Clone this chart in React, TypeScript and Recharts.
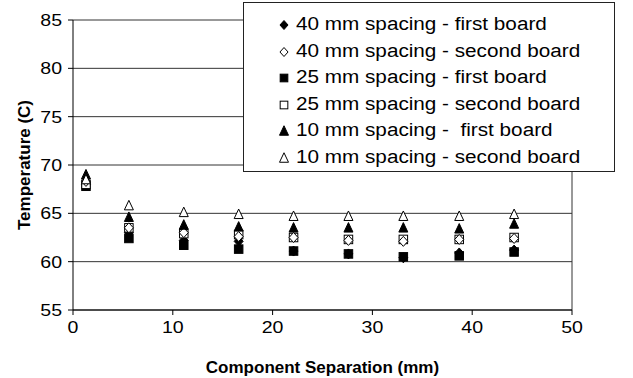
import React from "react";
import { ScatterChart, Scatter, XAxis, YAxis, CartesianGrid, ReferenceLine } from "recharts";

const separation = [1.3, 5.6, 11.1, 16.6, 22.1, 27.6, 33.1, 38.7, 44.2];
const s40First = [68.0, 63.0, 62.2, 62.1, 61.1, 60.8, 60.4, 60.9, 61.2];
const s40Second = [68.3, 63.5, 63.0, 62.6, 62.5, 62.2, 62.1, 62.3, 62.4];
const s25First = [67.8, 62.4, 61.7, 61.3, 61.1, 60.8, 60.5, 60.6, 61.0];
const s25Second = [68.0, 63.5, 62.9, 62.8, 62.5, 62.3, 62.3, 62.3, 62.5];
const s10First = [69.0, 64.6, 63.8, 63.6, 63.5, 63.5, 63.5, 63.4, 63.9];
const s10Second = [68.5, 65.8, 65.1, 64.9, 64.7, 64.7, 64.7, 64.7, 64.9];

const yTicks = [55, 60, 65, 70, 75, 80, 85];
const xTicks = [0, 10, 20, 30, 40, 50];

const FONT = "'Liberation Sans', Arial, sans-serif";
// the reference is a little wider than tall, so text gets stretched sideways
const STRETCH = 1.15;

const toPoints = (vals: number[]) => vals.map((v, i) => ({ x: separation[i], y: v }));

type MarkerKind = "diamond" | "square" | "triangle";

const drawMarker = (kind: MarkerKind, filled: boolean, cx: number, cy: number, r: number) => {
  const fill = filled ? "#000" : "#fff";
  if (kind === "diamond") {
    return (
      <polygon
        points={`${cx},${cy - r} ${cx + r * 0.9},${cy} ${cx},${cy + r} ${cx - r * 0.9},${cy}`}
        fill={fill}
        stroke="#000"
        strokeWidth={1}
      />
    );
  }
  if (kind === "square") {
    const h = r * 0.85;
    return <rect x={cx - h} y={cy - h} width={h * 2} height={h * 2} fill={fill} stroke="#000" strokeWidth={1} />;
  }
  return (
    <polygon
      points={`${cx},${cy - r * 1.05} ${cx + r * 0.9},${cy + r * 0.85} ${cx - r * 0.9},${cy + r * 0.85}`}
      fill={fill}
      stroke="#000"
      strokeWidth={1}
    />
  );
};

const markerShape = (kind: MarkerKind, filled: boolean) => (props: any) => {
  const { cx, cy } = props;
  return <g>{drawMarker(kind, filled, cx, cy, 5)}</g>;
};

const series = [
  { name: "40 mm spacing - first board", data: s40First, kind: "diamond" as MarkerKind, filled: true },
  { name: "40 mm spacing - second board", data: s40Second, kind: "diamond" as MarkerKind, filled: false },
  { name: "25 mm spacing - first board", data: s25First, kind: "square" as MarkerKind, filled: true },
  { name: "25 mm spacing - second board", data: s25Second, kind: "square" as MarkerKind, filled: false },
  { name: "10 mm spacing -  first board", data: s10First, kind: "triangle" as MarkerKind, filled: true },
  { name: "10 mm spacing - second board", data: s10Second, kind: "triangle" as MarkerKind, filled: false },
];

// plotting order so that the open markers sit on top of the filled ones
const drawOrder = [0, 2, 3, 1, 4, 5];

const XTick = (props: any) => {
  const { x, y, payload } = props;
  return (
    <g transform={`translate(${x},${y + 16}) scale(${STRETCH},1)`}>
      <text x={0} y={0} textAnchor="middle" fill="#000" fontSize={17} fontFamily={FONT}>
        {payload.value}
      </text>
    </g>
  );
};

const YTick = (props: any) => {
  const { y, payload } = props;
  return (
    <g transform={`translate(62,${y + 6}) scale(${STRETCH},1)`}>
      <text x={0} y={0} textAnchor="end" fill="#000" fontSize={17} fontFamily={FONT}>
        {payload.value}
      </text>
    </g>
  );
};

const LegendBox = () => (
  <div
    style={{
      position: "absolute",
      left: 243,
      top: 2,
      width: 372,
      height: 170,
      border: "1px solid #222",
      background: "#fff",
      boxSizing: "border-box",
      paddingTop: 9,
      fontFamily: FONT,
      fontSize: 18,
      color: "#000",
    }}
  >
    {series.map((s) => (
      <div key={s.name} style={{ position: "relative", height: 26.5 }}>
        <svg width={12} height={12} style={{ position: "absolute", left: 34, top: 7 }}>
          {drawMarker(s.kind, s.filled, 6, 6, s.kind === "triangle" ? 5 : 4.5)}
        </svg>
        <div
          style={{
            position: "absolute",
            left: 52,
            top: 2,
            whiteSpace: "pre",
            transform: `scaleX(${STRETCH})`,
            transformOrigin: "left top",
          }}
        >
          {s.name}
        </div>
      </div>
    ))}
  </div>
);

export default function App() {
  return (
    <div style={{ position: "fixed", top: 0, left: 0, width: 633, height: 378, background: "#fff" }}>
      <ScatterChart width={633} height={378} margin={{ top: 20, right: 61, bottom: 0, left: 0 }}>
        <CartesianGrid vertical={false} stroke="#333" strokeWidth={1} />
        <XAxis
          type="number"
          dataKey="x"
          domain={[0, 50]}
          ticks={xTicks}
          height={68}
          stroke="#000"
          tickSize={5}
          tick={XTick}
          label={{
            value: "Component Separation (mm)",
            position: "insideBottom",
            offset: 5,
            fill: "#000",
            fontSize: 17,
            fontWeight: "bold",
            fontFamily: FONT,
          }}
        />
        <YAxis
          type="number"
          dataKey="y"
          domain={[55, 85]}
          ticks={yTicks}
          width={73}
          stroke="#000"
          tickSize={5}
          tick={YTick}
          label={{
            value: "Temperature (C)",
            angle: -90,
            position: "insideLeft",
            offset: 24,
            style: { textAnchor: "middle" },
            fill: "#000",
            fontSize: 17,
            fontWeight: "bold",
            fontFamily: FONT,
          }}
        />
        <ReferenceLine x={50} stroke="#333" strokeWidth={1} />
        {drawOrder.map((i) => {
          const s = series[i];
          return (
            <Scatter
              key={s.name}
              name={s.name}
              data={toPoints(s.data)}
              shape={markerShape(s.kind, s.filled)}
              isAnimationActive={false}
            />
          );
        })}
      </ScatterChart>
      <LegendBox />
    </div>
  );
}
